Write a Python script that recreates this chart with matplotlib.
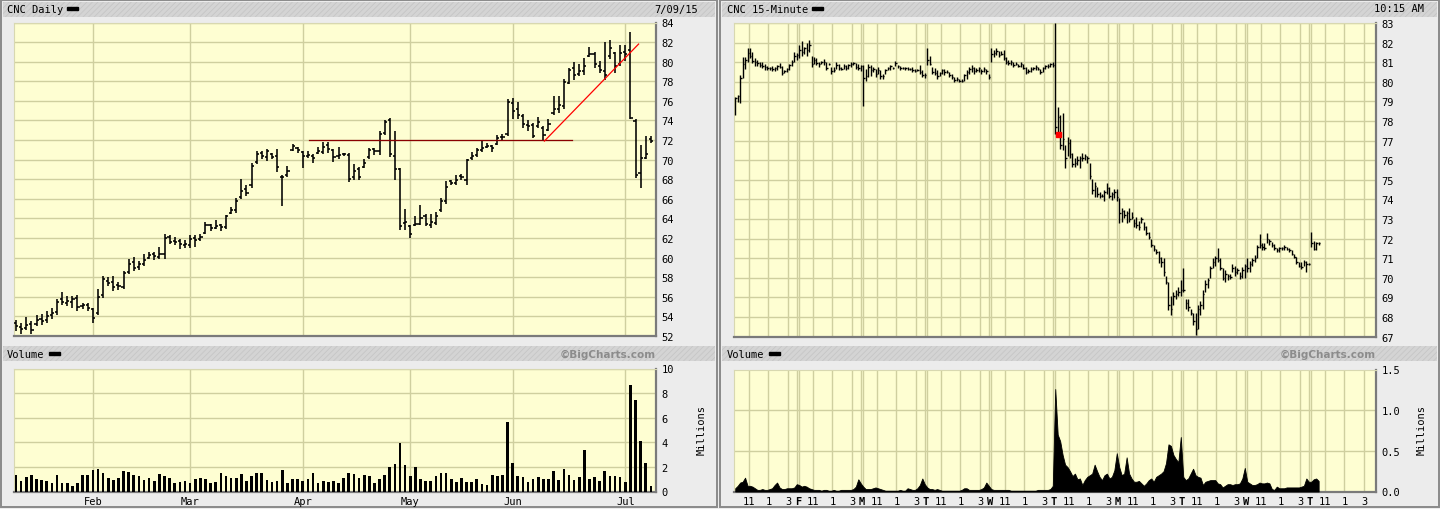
import matplotlib
matplotlib.use("Agg")
import matplotlib.pyplot as plt
from matplotlib.collections import LineCollection
from matplotlib.patches import Rectangle

W, H = 1440, 510

# ---------------- daily chart, CNC, Jan 9 - Jul 9 2015 (one entry per trading day) ----------------
d_open = [
    53.3, 52.9, 52.8, 53.2, 53.2, 53.7, 53.6, 54.1, 54.4, 55.8,
    55.4, 55.5, 55.9, 55.1, 55.2, 54.8, 54.3, 56.2, 57.6, 57.5,
    57.2, 57.0, 58.5, 59.6, 59.0, 59.4, 60.0, 60.4, 60.1, 60.4,
    62.1, 61.7, 61.7, 61.3, 61.3, 62.0, 61.9, 62.5, 63.3, 63.0,
    63.3, 63.1, 64.6, 64.9, 66.2, 67.0, 67.4, 69.8, 70.7, 70.3,
    70.6, 70.4, 68.2, 68.4, 71.0, 71.2, 70.8, 70.4, 70.4, 70.7,
    70.8, 71.5, 71.0, 70.4, 70.6, 70.5, 68.2, 69.0, 69.2, 70.3,
    71.1, 70.9, 72.7, 74.0, 70.4, 69.0, 63.5, 63.2, 63.3, 63.4,
    64.2, 63.3, 63.5, 64.9, 65.8, 67.8, 67.6, 68.3, 67.9, 70.2,
    70.5, 71.0, 71.3, 71.4, 71.6, 72.3, 72.6, 75.8, 75.2, 74.5,
    73.5, 73.5, 73.4, 73.2, 73.0, 74.8, 75.2, 75.5, 77.8, 79.4,
    78.7, 79.0, 80.6, 80.8, 79.6, 79.0, 80.6, 80.9, 79.8, 81.0,
    81.2, 73.9, 68.6, 70.2, 72.1,
]
d_high = [
    53.6, 53.3, 53.9, 53.5, 54.1, 54.2, 54.6, 54.9, 55.8, 56.5,
    56.1, 56.1, 56.2, 55.4, 55.4, 54.9, 56.8, 58.1, 58.0, 58.1,
    57.5, 58.6, 59.9, 60.1, 59.7, 60.4, 60.6, 60.6, 61.1, 62.4,
    62.3, 62.1, 61.9, 61.8, 62.3, 62.3, 62.4, 63.6, 63.4, 63.8,
    63.4, 64.4, 65.2, 66.1, 68.0, 67.4, 69.7, 70.9, 70.9, 71.1,
    70.7, 71.1, 68.4, 69.4, 71.6, 71.3, 70.9, 70.9, 70.6, 71.3,
    71.8, 71.8, 71.1, 71.3, 70.7, 70.7, 69.6, 69.3, 70.1, 71.2,
    71.2, 72.9, 74.0, 74.3, 72.9, 69.1, 65.0, 63.3, 64.2, 65.4,
    64.5, 64.5, 64.7, 66.1, 67.8, 67.9, 68.4, 68.5, 70.1, 70.8,
    71.2, 71.9, 71.7, 71.5, 72.5, 72.6, 76.2, 76.3, 75.9, 74.7,
    74.0, 73.7, 74.4, 73.4, 74.2, 76.5, 76.5, 78.2, 79.4, 80.0,
    79.8, 80.4, 81.5, 81.0, 80.1, 82.0, 82.2, 81.0, 81.7, 81.7,
    83.0, 74.2, 71.5, 72.4, 72.4,
]
d_low = [
    52.5, 52.2, 52.6, 52.2, 53.0, 53.1, 53.3, 53.7, 54.1, 55.2,
    55.1, 54.9, 54.6, 54.8, 54.6, 53.3, 54.1, 55.9, 57.1, 56.6,
    56.7, 56.8, 58.3, 58.6, 58.7, 59.1, 59.9, 59.8, 59.9, 59.9,
    61.4, 61.3, 60.9, 61.0, 61.0, 61.1, 61.7, 62.4, 62.7, 62.9,
    62.7, 62.9, 64.5, 64.6, 66.0, 66.3, 67.1, 69.6, 70.1, 69.9,
    70.1, 68.7, 65.3, 68.2, 70.9, 70.7, 69.1, 70.2, 69.7, 70.6,
    70.6, 70.7, 69.8, 70.1, 70.4, 67.7, 67.9, 67.9, 69.1, 70.1,
    70.5, 70.5, 72.5, 70.3, 67.9, 62.8, 62.8, 62.0, 63.2, 63.3,
    63.2, 63.0, 63.3, 64.7, 65.5, 67.4, 67.4, 67.9, 67.4, 70.0,
    70.3, 70.8, 71.2, 70.8, 71.5, 71.9, 72.4, 74.2, 74.1, 73.2,
    72.9, 72.2, 73.2, 71.9, 72.9, 74.6, 74.8, 75.2, 77.7, 78.1,
    78.5, 78.6, 80.5, 79.4, 78.8, 78.1, 80.3, 78.8, 79.6, 80.1,
    74.1, 68.1, 67.1, 70.1, 71.7,
]
d_close = [
    53.0, 52.7, 53.1, 52.6, 53.6, 53.5, 54.0, 54.3, 55.5, 55.5,
    55.6, 55.8, 55.0, 55.2, 54.9, 53.8, 56.0, 57.8, 57.4, 57.0,
    57.1, 58.4, 59.4, 58.9, 59.3, 59.8, 60.3, 60.2, 60.4, 62.0,
    61.6, 61.6, 61.4, 61.4, 61.9, 61.8, 62.1, 63.3, 63.0, 63.2,
    63.1, 64.2, 64.9, 65.8, 66.8, 66.6, 69.4, 70.6, 70.4, 70.9,
    70.3, 69.2, 68.2, 68.8, 71.4, 71.0, 70.4, 70.5, 70.2, 70.9,
    71.3, 71.1, 70.3, 70.5, 70.6, 68.0, 68.8, 68.2, 69.7, 71.0,
    70.9, 72.6, 73.8, 70.6, 69.0, 63.2, 63.6, 62.4, 63.4, 64.0,
    63.4, 63.6, 64.2, 65.8, 67.2, 67.6, 67.9, 68.2, 70.0, 70.4,
    71.0, 71.2, 71.4, 71.2, 72.2, 72.3, 75.9, 75.0, 74.6, 73.6,
    73.4, 72.4, 73.8, 72.5, 73.6, 75.2, 75.6, 77.9, 79.2, 78.6,
    79.0, 79.6, 80.8, 79.8, 79.2, 78.6, 81.4, 79.6, 80.9, 80.8,
    74.3, 68.4, 70.2, 70.6, 71.9,
]
d_vol = [  # millions of shares
    1.33, 0.84, 1.17, 1.33, 1.00, 0.95, 0.84, 0.73, 1.33, 0.73,
    0.68, 0.46, 0.68, 1.33, 1.33, 1.73, 1.82, 1.49, 1.08, 0.92,
    1.08, 1.65, 1.57, 1.33, 1.27, 0.92, 1.11, 0.84, 1.41, 1.27,
    1.06, 0.73, 0.79, 0.84, 0.73, 1.00, 1.06, 1.00, 0.73, 0.79,
    1.49, 1.27, 1.06, 1.06, 1.41, 0.84, 1.27, 1.54, 1.54, 0.92,
    0.79, 0.84, 1.73, 0.68, 1.00, 1.00, 0.84, 1.00, 1.49, 0.68,
    0.84, 0.79, 0.84, 0.68, 1.06, 1.54, 1.41, 1.10, 1.36, 1.23,
    0.68, 1.04, 1.36, 2.00, 2.26, 3.98, 2.18, 1.23, 2.00, 1.04,
    0.87, 0.87, 1.23, 1.53, 1.53, 1.04, 0.76, 1.12, 0.76, 0.76,
    1.04, 0.63, 0.52, 1.36, 1.28, 1.36, 5.61, 2.32, 1.23, 1.14,
    0.74, 1.04, 1.14, 1.04, 1.04, 1.69, 0.95, 1.85, 1.36, 0.95,
    1.14, 3.35, 1.04, 1.14, 0.87, 1.69, 1.28, 1.23, 1.14, 0.79,
    8.66, 7.41, 4.14, 2.34, 0.41,
]
month_labels = ["Feb", "Mar", "Apr", "May", "Jun", "Jul"]
month_start_idx = [15, 34, 56, 77, 97, 119]

# drawn annotations (in day-index / price units)
resist_level = 72.0
resist_span = [57.3, 108.5]
trend_x = [103.2, 121.6]
trend_y = [71.9, 81.8]

# ---------------- 15-minute chart, Jun 25 - Jul 9 (26 bars per session) ----------------
day_letters = ["F", "M", "T", "W", "T", "M", "T", "W", "T"]
hour_labels = ["11", "1", "3"]
bars_per_day = 26

m15_high = [
    # Thu Jun 25
    79.25, 79.35, 80.35, 81.25, 81.25, 81.70, 81.75, 81.50, 81.20, 81.10, 81.00, 81.00, 80.90,
    80.80, 80.75, 80.80, 80.75, 80.85, 80.95, 80.80, 80.60, 80.70, 80.90, 81.10, 81.50, 81.45,
    # Fri Jun 26
    81.90, 82.10, 81.80, 82.00, 82.15, 81.30, 81.25, 81.20, 81.00, 81.05, 81.15, 81.00, 80.95,
    80.75, 80.75, 81.00, 80.90, 80.75, 80.90, 80.85, 80.90, 81.00, 81.00, 80.95, 80.90, 80.85,
    # Mon Jun 29
    80.85, 80.65, 80.90, 80.85, 80.75, 80.65, 80.75, 80.60, 80.40, 80.65, 80.75, 80.85, 80.75,
    81.05, 80.85, 80.80, 80.75, 80.75, 80.75, 80.70, 80.75, 80.65, 80.65, 80.85, 80.60, 80.45,
    # Tue Jun 30
    81.75, 81.30, 80.75, 80.70, 80.60, 80.50, 80.65, 80.65, 80.60, 80.50, 80.40, 80.25, 80.25,
    80.15, 80.15, 80.40, 80.60, 80.75, 80.85, 80.75, 80.70, 80.75, 80.65, 80.75, 80.65, 80.40,
    # Wed Jul 1
    81.70, 81.60, 81.70, 81.55, 81.55, 81.60, 81.25, 81.10, 81.10, 81.00, 81.00, 80.90, 81.00,
    80.90, 80.75, 80.65, 80.75, 80.75, 80.85, 80.75, 80.65, 80.75, 80.85, 80.90, 80.95, 81.00,
    # Thu Jul 2
    83.00, 78.70, 78.30, 78.40, 76.80, 77.20, 77.10, 76.35, 76.10, 76.20, 76.20, 76.35, 76.30,
    76.20, 75.85, 75.05, 74.90, 74.65, 74.40, 74.30, 74.50, 74.85, 74.65, 74.40, 74.55, 74.55,
    # Mon Jul 6
    74.05, 73.55, 73.45, 73.40, 73.55, 73.35, 73.00, 73.10, 72.90, 73.10, 72.85, 72.65, 72.35,
    72.00, 71.70, 71.45, 71.35, 71.05, 71.00, 70.10, 69.80, 69.10, 69.30, 69.40, 69.55, 69.90,
    # Tue Jul 7
    70.50, 68.90, 68.90, 68.40, 68.20, 68.20, 68.60, 68.80, 69.40, 69.90, 70.00, 70.60, 71.00,
    71.10, 71.50, 71.00, 70.50, 70.40, 70.20, 70.20, 70.70, 70.60, 70.50, 70.30, 70.55, 70.70,
    # Wed Jul 8
    71.00, 70.85, 71.00, 71.15, 71.70, 72.25, 71.80, 71.80, 72.30, 72.00, 71.85, 71.75, 71.50,
    71.60, 71.60, 71.70, 71.60, 71.50, 71.40, 71.20, 71.05, 70.80, 70.80, 70.90, 70.85, 70.75,
    # Thu Jul 9
    72.35, 71.90, 71.85, 71.85,
]
m15_low = [
    78.30, 78.95, 78.90, 80.20, 80.65, 81.00, 81.20, 80.95, 80.80, 80.80, 80.75, 80.70, 80.60,
    80.60, 80.60, 80.55, 80.55, 80.60, 80.70, 80.35, 80.45, 80.50, 80.60, 80.80, 81.00, 81.10,
    81.20, 81.30, 81.40, 81.30, 81.50, 80.75, 80.90, 80.85, 80.75, 80.90, 80.85, 80.60, 80.85,
    80.40, 80.50, 80.65, 80.60, 80.60, 80.65, 80.60, 80.65, 80.75, 80.85, 80.65, 80.60, 80.55,
    78.75, 80.05, 80.25, 80.30, 80.50, 80.25, 80.40, 80.15, 80.15, 80.40, 80.60, 80.60, 80.65,
    80.80, 80.70, 80.60, 80.65, 80.60, 80.60, 80.60, 80.50, 80.50, 80.55, 80.40, 80.25, 80.20,
    80.85, 80.85, 80.40, 80.35, 80.15, 80.30, 80.40, 80.35, 80.45, 80.25, 80.15, 80.00, 80.05,
    80.00, 79.98, 80.05, 80.15, 80.40, 80.50, 80.40, 80.50, 80.50, 80.40, 80.50, 80.40, 80.15,
    81.00, 81.25, 81.35, 81.25, 81.35, 81.10, 80.90, 80.85, 80.85, 80.75, 80.85, 80.75, 80.75,
    80.65, 80.40, 80.45, 80.50, 80.60, 80.60, 80.60, 80.40, 80.50, 80.65, 80.70, 80.75, 80.75,
    77.35, 77.45, 76.55, 76.50, 75.60, 76.20, 76.10, 75.65, 75.65, 75.75, 75.60, 75.95, 76.00,
    75.85, 75.05, 74.30, 74.15, 74.15, 74.05, 74.10, 73.90, 74.30, 74.05, 73.95, 74.05, 73.90,
    72.80, 72.85, 73.05, 72.80, 72.85, 73.00, 72.60, 72.55, 72.45, 72.80, 72.45, 72.20, 72.00,
    71.60, 71.35, 71.20, 70.75, 70.55, 70.10, 69.70, 68.35, 68.10, 68.60, 68.90, 69.10, 69.10,
    69.30, 68.40, 68.30, 68.10, 67.60, 67.10, 67.40, 68.10, 68.40, 69.30, 69.50, 70.00, 70.50,
    70.60, 70.80, 70.40, 69.90, 69.80, 69.90, 69.95, 70.30, 70.10, 70.20, 69.95, 70.00, 70.00,
    70.30, 70.30, 70.60, 70.80, 71.00, 71.50, 71.40, 71.40, 71.80, 71.70, 71.60, 71.40, 71.30,
    71.30, 71.40, 71.40, 71.40, 71.30, 71.15, 71.00, 70.70, 70.55, 70.45, 70.60, 70.30, 70.65,
    71.60, 71.40, 71.40, 71.70,
]
m15_close = [
    79.20, 79.30, 80.20, 80.90, 81.10, 81.45, 81.30, 81.05, 81.00, 80.95, 80.85, 80.80, 80.75,
    80.70, 80.70, 80.65, 80.70, 80.80, 80.75, 80.45, 80.55, 80.65, 80.85, 81.00, 81.30, 81.35,
    81.60, 81.50, 81.70, 81.60, 81.90, 80.90, 81.10, 80.95, 80.90, 81.00, 81.00, 80.70, 80.90,
    80.55, 80.60, 80.85, 80.70, 80.65, 80.80, 80.70, 80.85, 80.90, 80.95, 80.75, 80.70, 80.80,
    80.20, 80.30, 80.75, 80.60, 80.65, 80.40, 80.60, 80.30, 80.30, 80.60, 80.70, 80.80, 80.70,
    80.95, 80.80, 80.70, 80.70, 80.70, 80.65, 80.65, 80.60, 80.55, 80.60, 80.50, 80.35, 80.35,
    81.10, 80.90, 80.50, 80.45, 80.30, 80.45, 80.60, 80.50, 80.50, 80.35, 80.25, 80.10, 80.15,
    80.05, 80.05, 80.35, 80.50, 80.65, 80.70, 80.55, 80.60, 80.70, 80.55, 80.65, 80.55, 80.25,
    81.40, 81.45, 81.55, 81.35, 81.40, 81.20, 81.00, 80.95, 81.00, 80.85, 80.90, 80.80, 80.90,
    80.70, 80.50, 80.55, 80.65, 80.70, 80.75, 80.65, 80.50, 80.70, 80.80, 80.80, 80.90, 80.85,
    77.70, 78.20, 76.80, 77.10, 76.10, 76.90, 76.30, 75.80, 75.85, 76.00, 76.10, 76.10, 76.20,
    76.10, 75.20, 74.50, 74.70, 74.30, 74.20, 74.20, 74.40, 74.60, 74.20, 74.30, 74.40, 74.10,
    73.30, 73.40, 73.20, 73.30, 73.00, 73.10, 72.80, 72.70, 72.60, 73.00, 72.60, 72.30, 72.10,
    71.70, 71.45, 71.30, 71.00, 70.80, 70.30, 69.80, 68.60, 68.40, 69.10, 69.20, 69.30, 69.40,
    69.40, 68.70, 68.50, 68.20, 67.80, 67.40, 68.40, 68.60, 69.20, 69.70, 69.90, 70.50, 70.80,
    71.00, 70.90, 70.50, 70.00, 70.20, 70.10, 70.05, 70.50, 70.30, 70.40, 70.10, 70.40, 70.60,
    70.50, 70.70, 70.90, 71.00, 71.60, 71.70, 71.60, 71.50, 72.00, 71.90, 71.70, 71.50, 71.40,
    71.50, 71.50, 71.60, 71.45, 71.40, 71.20, 71.05, 70.80, 70.60, 70.55, 70.80, 70.70, 70.70,
    71.80, 71.45, 71.80, 71.80,
]
m15_vol = [  # millions of shares
    0.04, 0.07, 0.11, 0.12, 0.17, 0.07, 0.07, 0.06, 0.04, 0.02, 0.02, 0.03, 0.02,
    0.02, 0.03, 0.04, 0.08, 0.11, 0.05, 0.03, 0.03, 0.04, 0.04, 0.04, 0.05, 0.09,
    0.08, 0.06, 0.07, 0.06, 0.04, 0.03, 0.02, 0.02, 0.02, 0.01, 0.02, 0.02, 0.01,
    0.01, 0.02, 0.01, 0.01, 0.02, 0.02, 0.02, 0.02, 0.02, 0.03, 0.06, 0.15, 0.10,
    0.06, 0.03, 0.03, 0.03, 0.04, 0.05, 0.04, 0.03, 0.02, 0.01, 0.01, 0.01, 0.01,
    0.01, 0.01, 0.02, 0.01, 0.01, 0.04, 0.03, 0.02, 0.02, 0.04, 0.08, 0.16, 0.09,
    0.05, 0.03, 0.03, 0.02, 0.03, 0.02, 0.01, 0.01, 0.01, 0.01, 0.01, 0.01, 0.01,
    0.01, 0.02, 0.04, 0.04, 0.02, 0.02, 0.02, 0.02, 0.02, 0.03, 0.05, 0.11, 0.07,
    0.03, 0.02, 0.02, 0.02, 0.02, 0.02, 0.02, 0.02, 0.01, 0.01, 0.01, 0.01, 0.01,
    0.01, 0.01, 0.01, 0.01, 0.01, 0.01, 0.02, 0.02, 0.02, 0.02, 0.02, 0.03, 0.07,
    1.26, 0.70, 0.62, 0.45, 0.33, 0.30, 0.25, 0.19, 0.22, 0.15, 0.16, 0.08, 0.14,
    0.18, 0.20, 0.22, 0.33, 0.25, 0.18, 0.14, 0.20, 0.22, 0.16, 0.18, 0.26, 0.47,
    0.30, 0.20, 0.22, 0.42, 0.22, 0.16, 0.12, 0.12, 0.13, 0.10, 0.07, 0.10, 0.14,
    0.16, 0.12, 0.18, 0.20, 0.22, 0.25, 0.35, 0.58, 0.56, 0.45, 0.40, 0.36, 0.67,
    0.18, 0.14, 0.16, 0.22, 0.28, 0.20, 0.18, 0.17, 0.08, 0.12, 0.13, 0.14, 0.14,
    0.14, 0.10, 0.09, 0.05, 0.07, 0.09, 0.09, 0.08, 0.09, 0.09, 0.10, 0.16, 0.29,
    0.12, 0.10, 0.08, 0.08, 0.09, 0.11, 0.10, 0.10, 0.11, 0.10, 0.03, 0.02, 0.06,
    0.04, 0.04, 0.04, 0.05, 0.05, 0.05, 0.05, 0.05, 0.05, 0.06, 0.07, 0.16, 0.12,
    0.12, 0.15, 0.16, 0.13,
]
# red marker on the Jul 2 open
marker_slot = 131.8
marker_price = 77.35

BG = "#ececec"
PLOT_BG = "#fefed2"
GRID = "#cfcf9f"
MONO = "DejaVu Sans Mono"


def px_axes(fig, x0, y0, x1, y1):
    """axes placed by pixel box (top-left origin)"""
    return fig.add_axes([x0 / W, 1 - y1 / H, (x1 - x0) / W, (y1 - y0) / H])


def style_plot(ax):
    ax.set_facecolor(PLOT_BG)
    for side in ("top", "left"):
        ax.spines[side].set_color("#d8d8b0")
        ax.spines[side].set_linewidth(0.8)
    for side in ("right", "bottom"):
        ax.spines[side].set_color("#7a7a7a")
        ax.spines[side].set_linewidth(1.6)
    ax.yaxis.tick_right()
    ax.tick_params(axis="both", length=0, labelsize=7.5, pad=4)


def hgrid(ax, levels):
    for v in levels:
        ax.axhline(v, color=GRID, lw=1.0, zorder=0)


def mono_labels(ax):
    for lbl in ax.get_yticklabels() + ax.get_xticklabels():
        lbl.set_fontfamily(MONO)


fig = plt.figure(figsize=(W / 100, H / 100), dpi=100, facecolor=BG)

# background canvas in pixel coords for frames, header bands and captions
bg = fig.add_axes([0, 0, 1, 1])
bg.set_xlim(0, W)
bg.set_ylim(H, 0)
bg.axis("off")
plt.rcParams["hatch.linewidth"] = 0.6
plt.rcParams["hatch.color"] = "#c6c6c6"
for x0, x1 in ((1, 717), (720, 1439)):
    bg.add_patch(Rectangle((x0, 1), x1 - x0, 507, facecolor=BG, edgecolor="#8a8a8a", lw=1.4))
    for y0 in (3, 347):
        bg.add_patch(Rectangle((x0 + 2, y0), x1 - x0 - 4, 14.5, facecolor="#d4d4d4",
                               edgecolor="#c6c6c6", hatch="//////", lw=0))

headers = [
    (7, 10, "CNC Daily", 67), (727, 10, "CNC 15-Minute", 812),
    (7, 355, "Volume", 49), (727, 355, "Volume", 769),
]
for x, y, txt, dash_x in headers:
    bg.text(x, y, txt, fontsize=7.5, family=MONO, va="center", ha="left")
    bg.add_patch(Rectangle((dash_x, y - 2.2), 11, 3.5, color="black"))
bg.text(698, 9.5, "7/09/15", fontsize=7.5, family=MONO, va="center", ha="right")
bg.text(1424, 9.5, "10:15 AM", fontsize=7.5, family=MONO, va="center", ha="right")
for xr in (656, 1376):
    bg.text(xr, 354.5, "\u00a9BigCharts.com", fontsize=7.5, weight="bold", color="#8c8c8c",
            va="center", ha="right")
for xm in (702, 1422):
    bg.text(xm, 430, "Millions", fontsize=7.5, family=MONO, rotation=90, va="center", ha="center")

# ---------------- left: daily price ----------------
ax = px_axes(fig, 14, 23.5, 656, 337)
style_plot(ax)
ax.set_xlim(-0.4, 125.0)
ax.set_ylim(52, 84)
ax.set_yticks(range(52, 85, 2))
hgrid(ax, range(52, 85, 2))
for m in month_start_idx:
    ax.axvline(m, color=GRID, lw=1.0, zorder=0)
ax.set_xticks([])
segs = []
for i in range(len(d_high)):
    segs.append([(i, d_low[i]), (i, d_high[i])])
    segs.append([(i - 0.42, d_open[i]), (i, d_open[i])])
    segs.append([(i, d_close[i]), (i + 0.42, d_close[i])])
ax.add_collection(LineCollection(segs, colors="black", linewidths=1.15, capstyle="butt", zorder=3))
ax.plot(resist_span, [resist_level, resist_level], color="#8a0000", lw=0.9, zorder=4)
ax.plot(trend_x, trend_y, color="#ff0000", lw=0.9, zorder=4)
mono_labels(ax)

# ---------------- left: daily volume ----------------
axv = px_axes(fig, 14, 369.5, 656, 492.5)
style_plot(axv)
axv.set_xlim(-0.4, 125.0)
axv.set_ylim(0, 10)
axv.set_yticks(range(0, 11, 2))
hgrid(axv, range(0, 11, 2))
for m in month_start_idx:
    axv.axvline(m, color=GRID, lw=1.0, zorder=0)
axv.bar(range(len(d_vol)), d_vol, width=0.52, color="black", zorder=3)
axv.set_xticks(month_start_idx)
axv.set_xticklabels(month_labels, fontsize=7.5)
axv.tick_params(axis="x", pad=3)
mono_labels(axv)

# ---------------- right: 15-minute price ----------------
n_days = 10
x_right = 260.8
ax2 = px_axes(fig, 734, 24, 1376, 337.7)
style_plot(ax2)
ax2.set_xlim(0, x_right)
ax2.set_ylim(67, 83)
ax2.set_yticks(range(67, 84))
hgrid(ax2, range(67, 84))


def vgrid_15(a):
    for d in range(n_days):
        for off in (6, 14, 22):
            a.axvline(d * bars_per_day + off, color=GRID, lw=1.0, zorder=0)
        if d > 0:
            for dx in (-0.45, 0.45):
                a.axvline(d * bars_per_day + dx, color=GRID, lw=1.0, zorder=0)


vgrid_15(ax2)
ax2.set_xticks([])
segs = []
for s in range(len(m15_high)):
    xc = s + 0.5
    segs.append([(xc, m15_low[s]), (xc, m15_high[s])])
    segs.append([(xc, m15_close[s]), (xc + 0.6, m15_close[s])])
ax2.add_collection(LineCollection(segs, colors="black", linewidths=1.0, capstyle="butt", zorder=3))
ax2.plot([marker_slot], [marker_price], marker="s", ms=3.6, color="red", mec="red", zorder=5)
mono_labels(ax2)

# ---------------- right: 15-minute volume ----------------
axv2 = px_axes(fig, 734, 370.5, 1376, 492.5)
style_plot(axv2)
axv2.set_xlim(0, x_right)
axv2.set_ylim(0, 1.5)
axv2.set_yticks([0, 0.5, 1.0, 1.5])
axv2.set_yticklabels(["0.0", "0.5", "1.0", "1.5"])
hgrid(axv2, [0.5, 1.0])
vgrid_15(axv2)
xs = [s + 0.5 for s in range(len(m15_vol))]
axv2.fill_between(xs, m15_vol, color="black", lw=0.6, edgecolor="black", zorder=3)

tick_pos, tick_lab, tick_bold = [], [], []
for d in range(n_days):
    if d > 0:
        tick_pos.append(d * bars_per_day)
        tick_lab.append(day_letters[d - 1])
        tick_bold.append(True)
    for off, lab in zip((6, 14, 22), hour_labels):
        tick_pos.append(d * bars_per_day + off)
        tick_lab.append(lab)
        tick_bold.append(False)
axv2.set_xticks(tick_pos)
axv2.set_xticklabels(tick_lab, fontsize=7.5)
for lbl, b in zip(axv2.get_xticklabels(), tick_bold):
    if b:
        lbl.set_fontweight("bold")
axv2.tick_params(axis="x", pad=3)
mono_labels(axv2)

fig.savefig("out.png", dpi=100, facecolor=BG)
